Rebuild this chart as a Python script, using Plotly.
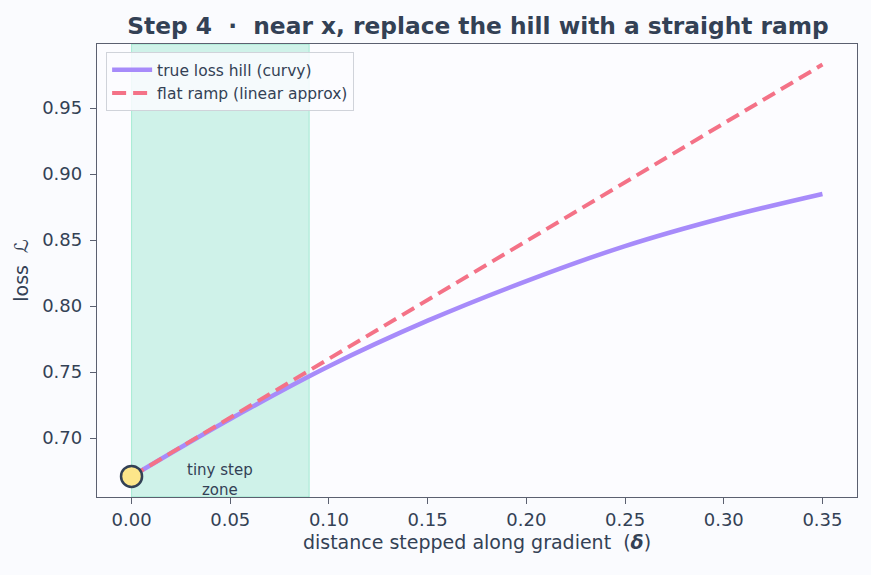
import plotly.graph_objects as go

# data
step = [0.0, 0.05, 0.10, 0.15, 0.20, 0.25, 0.30, 0.35]
true_loss = [0.671, 0.7145, 0.7545, 0.789, 0.819, 0.8455, 0.867, 0.885]
ramp_x = [0.0, 0.35]
ramp_y = [0.671, 0.983]
zone = [0.0, 0.09]
start_x = [0.0]
start_y = [0.671]
xticks = [0.0, 0.05, 0.10, 0.15, 0.20, 0.25, 0.30, 0.35]
yticks = [0.70, 0.75, 0.80, 0.85, 0.90, 0.95]

ink = "#334155"
font = "DejaVu Sans"
fig = go.Figure()
fig.add_vrect(x0=zone[0], x1=zone[1], fillcolor="rgba(52,211,153,0.22)",
              line=dict(color="rgba(52,211,153,0.35)", width=1), layer="below")
fig.add_trace(go.Scatter(x=step, y=true_loss, mode="lines", name="true loss hill (curvy)",
                         line=dict(color="#a78bfa", width=4.5, shape="spline", smoothing=1.0)))
fig.add_trace(go.Scatter(x=ramp_x, y=ramp_y, mode="lines", name="flat ramp (linear approx)",
                         line=dict(color="#f47287", width=4, dash="14px,7px")))
fig.add_trace(go.Scatter(x=start_x, y=start_y, mode="markers", showlegend=False,
                         marker=dict(size=21, color="#fde68a", line=dict(color=ink, width=2.5))))
fig.add_annotation(x=0.045, y=0.668, text="tiny step<br>zone", showarrow=False,
                   font=dict(size=15, color=ink, family=font))

axis_common = dict(showline=True, linecolor="#5b6070", linewidth=1.3, mirror=True,
                   ticks="outside", ticklen=6, tickcolor="#5b6070", showgrid=False, zeroline=False,
                   tickfont=dict(size=18, color=ink, family=font))
fig.update_xaxes(range=[-0.0175, 0.3675], tickvals=xticks, ticktext=[f"{v:.2f}" for v in xticks],
                 title=dict(text="distance stepped along gradient  (<b><i>δ</i></b>)",
                            font=dict(size=19, color=ink, family=font), standoff=6),
                 **axis_common)
fig.update_yaxes(range=[0.6554, 0.9986], tickvals=yticks, ticktext=[f"{v:.2f}" for v in yticks],
                 ticklabelstandoff=4,
                 title=dict(text="loss  <i>ℒ</i>", font=dict(size=19, color=ink, family=font), standoff=8),
                 **axis_common)
fig.update_layout(
    width=871, height=575,
    margin=dict(l=97, r=14, t=44, b=78),
    paper_bgcolor="#fafbfe", plot_bgcolor="#fcfcff",
    title=dict(text="<b>Step 4  ·  near x, replace the hill with a straight ramp</b>",
               x=478 / 871, xanchor="center", y=1 - 26 / 575, yanchor="middle",
               font=dict(size=23.3, color=ink, family=font)),
    legend=dict(x=0.012, y=0.982, xanchor="left", yanchor="top", bgcolor="rgba(252,252,255,0.85)",
                bordercolor="#d0d3da", borderwidth=1, font=dict(size=15.5, color=ink, family=font),
                tracegroupgap=0, itemwidth=40),
    showlegend=True,
)
fig.write_html("out.html")
